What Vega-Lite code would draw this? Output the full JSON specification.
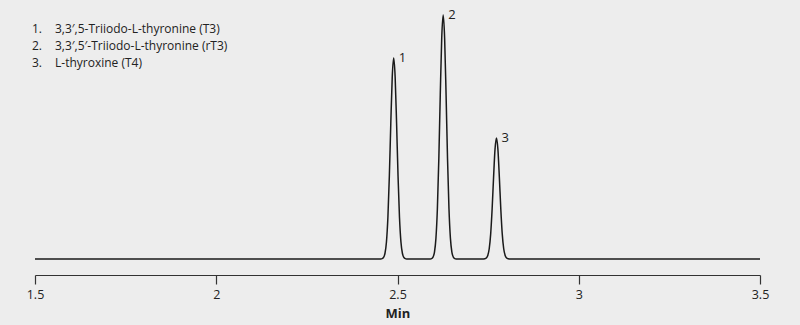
{
  "$schema": "https://vega.github.io/schema/vega-lite/v6.json",
  "width": 725,
  "height": 275,
  "autosize": {"type": "none"},
  "padding": {"left": 35, "top": 0, "right": 40, "bottom": 50},
  "background": "#ededed",
  "config": {"view": {"stroke": null}, "font": "Open Sans"},
  "datasets": {
    "trace": [
      {"t": 1.5, "signal": 0},
      {"t": 2.4495, "signal": 0}, {"t": 2.4535, "signal": 0.03}, {"t": 2.4575, "signal": 0.15}, {"t": 2.4615, "signal": 0.65}, {"t": 2.4655, "signal": 2.35}, {"t": 2.4695, "signal": 6.98}, {"t": 2.4735, "signal": 16.97}, {"t": 2.4775, "signal": 33.88}, {"t": 2.4815, "signal": 55.51}, {"t": 2.4855, "signal": 74.65},
      {"t": 2.4895, "signal": 82.4},
      {"t": 2.4935, "signal": 74.65}, {"t": 2.4975, "signal": 55.51}, {"t": 2.5015, "signal": 33.88}, {"t": 2.5055, "signal": 16.97}, {"t": 2.5095, "signal": 6.98}, {"t": 2.5135, "signal": 2.35}, {"t": 2.5175, "signal": 0.65}, {"t": 2.5215, "signal": 0.15}, {"t": 2.5255, "signal": 0.03}, {"t": 2.5295, "signal": 0},
      {"t": 2.586, "signal": 0}, {"t": 2.59, "signal": 0.03}, {"t": 2.594, "signal": 0.18}, {"t": 2.598, "signal": 0.79}, {"t": 2.602, "signal": 2.86}, {"t": 2.606, "signal": 8.47}, {"t": 2.61, "signal": 20.59}, {"t": 2.614, "signal": 41.11}, {"t": 2.618, "signal": 67.37}, {"t": 2.622, "signal": 90.6},
      {"t": 2.626, "signal": 100},
      {"t": 2.63, "signal": 90.6}, {"t": 2.634, "signal": 67.37}, {"t": 2.638, "signal": 41.11}, {"t": 2.642, "signal": 20.59}, {"t": 2.646, "signal": 8.47}, {"t": 2.65, "signal": 2.86}, {"t": 2.654, "signal": 0.79}, {"t": 2.658, "signal": 0.18}, {"t": 2.662, "signal": 0.03}, {"t": 2.666, "signal": 0},
      {"t": 2.733, "signal": 0}, {"t": 2.737, "signal": 0.02}, {"t": 2.741, "signal": 0.09}, {"t": 2.745, "signal": 0.39}, {"t": 2.749, "signal": 1.42}, {"t": 2.753, "signal": 4.2}, {"t": 2.757, "signal": 10.21}, {"t": 2.761, "signal": 20.39}, {"t": 2.765, "signal": 33.41}, {"t": 2.769, "signal": 44.94},
      {"t": 2.773, "signal": 49.6},
      {"t": 2.777, "signal": 44.94}, {"t": 2.781, "signal": 33.41}, {"t": 2.785, "signal": 20.39}, {"t": 2.789, "signal": 10.21}, {"t": 2.793, "signal": 4.2}, {"t": 2.797, "signal": 1.42}, {"t": 2.801, "signal": 0.39}, {"t": 2.805, "signal": 0.09}, {"t": 2.809, "signal": 0.02}, {"t": 2.813, "signal": 0},
      {"t": 3.5, "signal": 0}
    ],
    "peaks": [
      {"label": "1", "rt": 2.4895, "height": 82.4},
      {"label": "2", "rt": 2.626, "height": 100},
      {"label": "3", "rt": 2.773, "height": 49.6}
    ],
    "legend": [
      {"num": "1.", "name": "3,3′,5-Triiodo-L-thyronine (T3)"},
      {"num": "2.", "name": "3,3′,5′-Triiodo-L-thyronine (rT3)"},
      {"num": "3.", "name": "L-thyroxine (T4)"}
    ]
  },
  "layer": [
    {
      "layer": [
        {
          "data": {"name": "trace"},
          "mark": {"type": "line", "interpolate": "monotone", "color": "#1a1a1a", "strokeWidth": 1.5},
          "encoding": {
            "x": {
              "field": "t", "type": "quantitative",
              "scale": {"domain": [1.5, 3.5], "nice": false, "zero": false},
              "axis": {
                "values": [1.5, 2, 2.5, 3, 3.5], "format": "~g", "grid": false,
                "domainColor": "#333333", "domainWidth": 1.2,
                "tickColor": "#333333", "tickSize": 9, "tickWidth": 1.2,
                "labelFontSize": 12.5, "labelColor": "#222222", "labelPadding": 4, "labelFlush": false,
                "title": "Min", "titleFontSize": 13, "titleFontWeight": "bold", "titleColor": "#222222", "titlePadding": 7
              }
            },
            "y": {
              "field": "signal", "type": "quantitative",
              "scale": {"domain": [-6.56, 106.15], "nice": false, "zero": false},
              "axis": null
            }
          }
        },
        {
          "data": {"name": "peaks"},
          "mark": {"type": "text", "align": "left", "baseline": "middle", "dx": 5, "fontSize": 13, "color": "#222222"},
          "encoding": {
            "x": {"field": "rt", "type": "quantitative"},
            "y": {"field": "height", "type": "quantitative"},
            "text": {"field": "label"}
          }
        }
      ]
    },
    {
      "data": {"name": "legend"},
      "encoding": {
        "y": {"field": "num", "type": "ordinal", "scale": {"type": "point", "range": [29, 63], "padding": 0}, "axis": null}
      },
      "layer": [
        {
          "mark": {"type": "text", "align": "left", "baseline": "middle", "dx": -3, "fontSize": 12, "color": "#222222"},
          "encoding": {"x": {"datum": 1.5, "type": "quantitative"}, "text": {"field": "num"}}
        },
        {
          "mark": {"type": "text", "align": "left", "baseline": "middle", "dx": 20, "fontSize": 12, "color": "#222222"},
          "encoding": {"x": {"datum": 1.5, "type": "quantitative"}, "text": {"field": "name"}}
        }
      ]
    }
  ],
  "resolve": {"scale": {"y": "independent"}}
}
